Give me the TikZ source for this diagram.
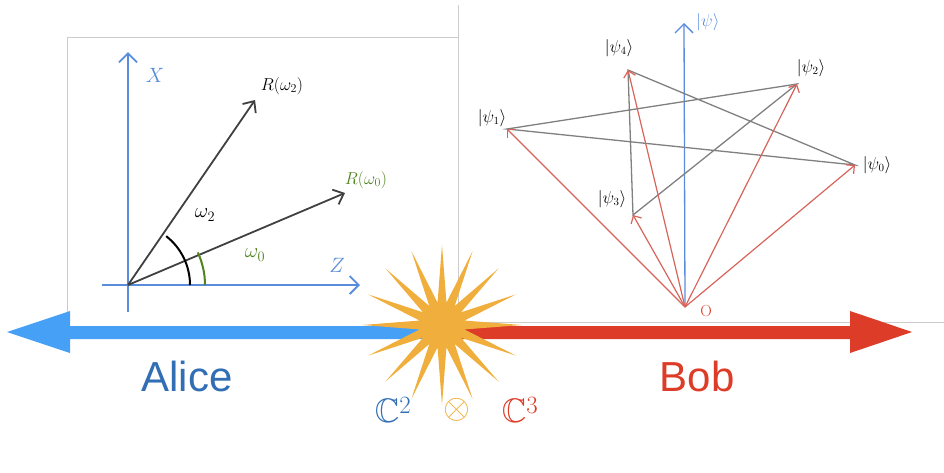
\documentclass[tikz,border=0pt]{standalone}
\usepackage{amsmath,amssymb}
\usepackage{fontspec}
\newfontfamily\labelfont{Liberation Sans}
\usetikzlibrary{shapes.geometric, arrows.meta}
\definecolor{axisblue}{RGB}{90,140,220}
\definecolor{aliceblue}{RGB}{70,160,245}
\definecolor{alicetext}{RGB}{50,110,180}
\definecolor{bobred}{RGB}{220,60,40}
\definecolor{vecred}{RGB}{215,100,90}
\definecolor{stargold}{RGB}{240,175,60}
\definecolor{anglegreen}{RGB}{80,130,30}
\tikzset{
    axis/.style={draw=axisblue, line width=1.8pt, -{Straight Barb[length=9pt,width=18pt]}},
    rvec/.style={draw=black!75, line width=1.8pt, -{Straight Barb[length=9pt,width=16pt]}},
    psivec/.style={draw=vecred, line width=1.2pt, -{Straight Barb[length=6pt,width=12pt]}},
    pentaline/.style={draw=gray, line width=1.3pt},
    ket/.style={font=\fontsize{16}{16}\selectfont}
}
\begin{document}
\begin{tikzpicture}[x=1pt, y=-1pt]
        \useasboundingbox (0,0) rectangle (944,472);
        % frames
        \draw[black!20] (67,315) -- (67,37) -- (458,37);
        \draw[black!20] (458,5) -- (458,322) -- (944,322);
        % left: rotations
        \coordinate (o) at (128,285);
        \coordinate (xend) at (128,52);
        \coordinate (zend) at (360,285);
        \draw[axisblue, line width=1.8pt] (128,312) -- (o) (102,285) -- (o);
        \draw[axis] (o) -- (xend);
        \draw[axis] (o) -- (zend);
        \node[axisblue, font=\fontsize{22}{22}\selectfont] (xl) at (155,75) {$X$};
        \node[axisblue, font=\fontsize{22}{22}\selectfont] (zl) at (337,265) {$Z$};
        \coordinate (r2) at (255,100);
        \coordinate (r0) at (345,193);
        \draw[rvec] (o) -- (r2);
        \draw[rvec] (o) -- (r0);
        \node[font=\fontsize{17}{17}\selectfont] (r2l) at (282,86) {$R(\omega_2)$};
        \node[anglegreen, font=\fontsize{17}{17}\selectfont] (r0l) at (366,180) {$R(\omega_0)$};
        \draw[line width=2pt] (190,285) arc[start angle=0, end angle=-52, radius=62];
        \draw[line width=2pt, anglegreen] (205,285) arc[start angle=0, end angle=-25, radius=77];
        \node[font=\fontsize{22}{22}\selectfont] (w2) at (205,215) {$\omega_2$};
        \node[anglegreen, font=\fontsize{22}{22}\selectfont] (w0) at (255,255) {$\omega_0$};
        % right: states
        \coordinate (O) at (685,307);
        \coordinate (ptop) at (684,23);
        \draw[axis, line width=1.3pt] (O) -- (ptop);
        \node[axisblue, ket] (pl) at (708,22) {$|\psi\rangle$};
        \coordinate (p0) at (855,165);
        \coordinate (p1) at (507,129);
        \coordinate (p2) at (797,84);
        \coordinate (p3) at (633,215);
        \coordinate (p4) at (628,70);
        \draw[pentaline] (p1) -- (p2) -- (p3) -- (p4) -- (p0) -- cycle;
        \foreach \p in {p0,p1,p2,p3,p4}
            \draw[psivec] (O) -- (\p);
        \node[ket] (l0) at (877,165) {$|\psi_0\rangle$};
        \node[ket] (l1) at (492,118) {$|\psi_1\rangle$};
        \node[ket] (l2) at (811,68) {$|\psi_2\rangle$};
        \node[ket] (l3) at (612,199) {$|\psi_3\rangle$};
        \node[ket] (l4) at (619,48) {$|\psi_4\rangle$};
        \node[bobred, font=\fontsize{16}{16}\selectfont] (ol) at (706,311) {O};
        % the line
        \fill[aliceblue] (440,326) -- (70,326) -- (70,311) -- (7,332) -- (70,353) -- (70,339) -- (440,339) -- cycle;
        \fill[bobred] (440,326) -- (850,326) -- (850,311) -- (912,332) -- (850,353) -- (850,339) -- (440,339) -- cycle;
        \node[star, star points=16, star point ratio=3.5, fill=stargold, minimum size=160pt, inner sep=0pt] (bang) at (442,325) {};
        \node[alicetext, font=\labelfont\fontsize{42}{42}\selectfont] (alice) at (187,376) {Alice};
        \node[bobred, font=\labelfont\fontsize{42}{42}\selectfont] (bob) at (697,376) {Bob};
        \node[alicetext, font=\fontsize{34}{34}\selectfont] (c2) at (393,410) {$\mathbb{C}^2$};
        \node[stargold, scale=2.4, font=\Large] (ot) at (457,410) {$\otimes$};
        \node[bobred, font=\fontsize{34}{34}\selectfont] (c3) at (520,410) {$\mathbb{C}^3$};
\end{tikzpicture}
\end{document}
